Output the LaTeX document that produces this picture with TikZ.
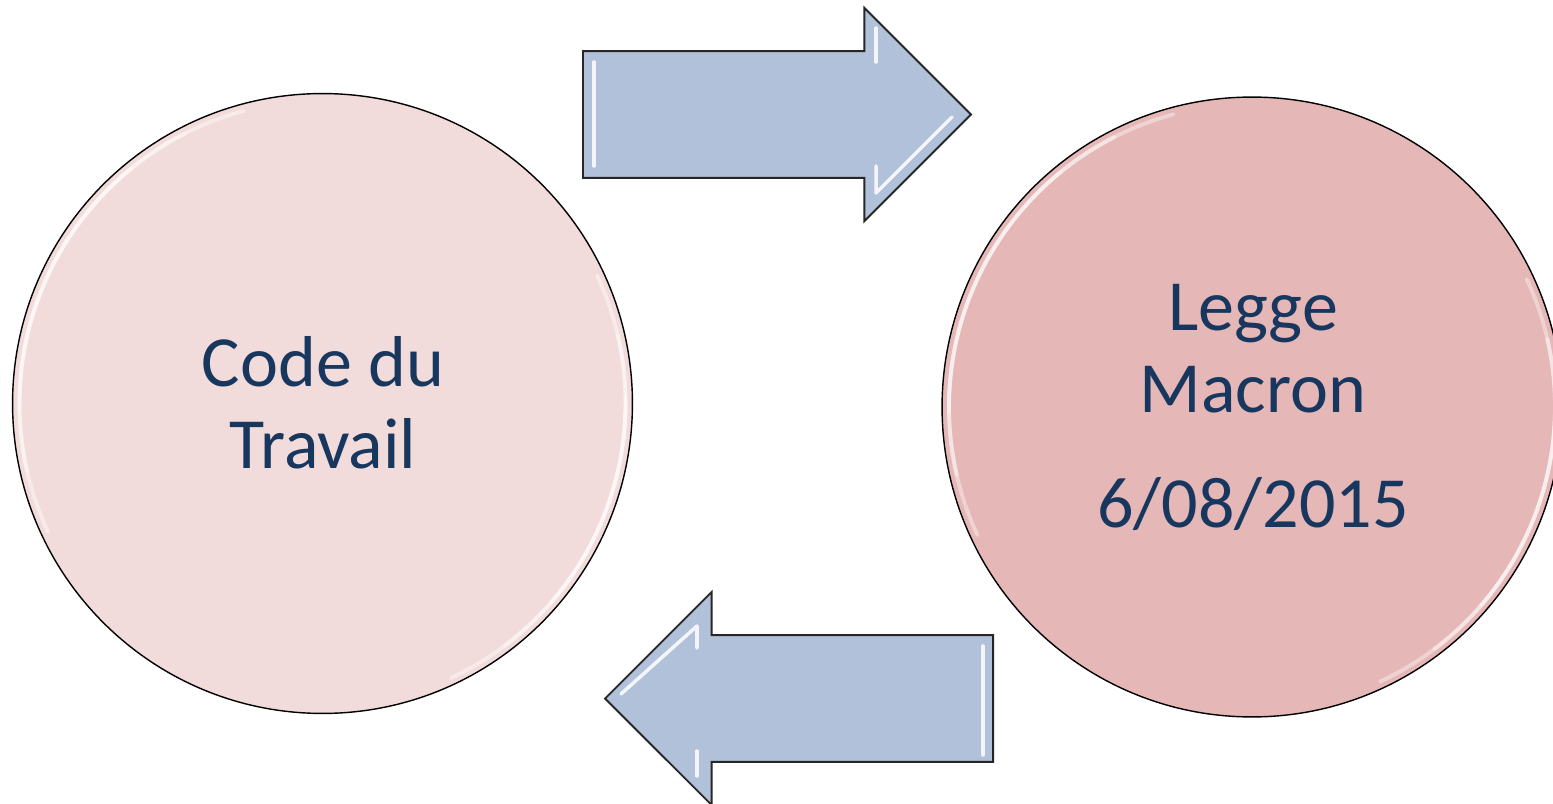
\documentclass[tikz,border=0pt]{standalone}
\usepackage{fontspec}
\setmainfont{Carlito}
\usetikzlibrary{shapes.arrows}
\definecolor{pinklight}{RGB}{242,220,219}
\definecolor{pinkdark}{RGB}{229,183,183}
\definecolor{arrowblue}{RGB}{177,193,218}
\definecolor{navytext}{RGB}{23,55,94}
\tikzset{
  disc/.style={circle, draw=black, line width=0.8pt, minimum size=12.4cm, inner sep=0pt},
  flow/.style={single arrow, draw=black!85, line width=1.1pt, fill=arrowblue,
    minimum height=7.76cm, inner xsep=0pt, inner ysep=1.25cm,
    single arrow head extend=0.86cm, single arrow tip angle=90, anchor=tail},
  caption/.style={text=navytext, font=\fontsize{41}{49}\selectfont, anchor=base, inner sep=0pt},
  gloss/.style={white, line width=2.2pt, opacity=0.4, line cap=round},
  shine/.style={white, line width=2pt, opacity=0.85, line cap=round, line join=round}
}
\begin{document}
\begin{tikzpicture}[x=0.02cm, y=-0.02cm]
  \clip (0,0) rectangle (1553,804);
  \fill[white] (0,0) rectangle (1553,804);

  % the two discs
  \node[disc, fill=pinklight] (code) at (322.5,403.5) {};
  \node[disc, fill=pinkdark] (macron) at (1252,407) {};

  % soft rim highlights on the discs
  \foreach \d in {code, macron} {
    \foreach \s in {0,12,24} {
      \draw[gloss] (\d.center) ++(155+\s:303) arc[start angle=155+\s, end angle=255-\s, radius=303];
      \draw[gloss] (\d.center) ++(-25+\s:303) arc[start angle=-25+\s, end angle=65-\s, radius=303];
    }
  }

  % the two arrows, placed by their tails
  \node[flow] (fwd) at (582,114.5) {};
  \node[flow, shape border rotate=180] (back) at (994,698.5) {};

  % bevel highlights on the arrows
  \draw[shine] (594,62) -- (594,166);
  \draw[shine] (876,28) -- (876,62);
  \draw[shine] (876,166) -- (876,193) -- (952,117);
  \draw[shine] (621,694) -- (697,626) -- (697,648);
  \draw[shine] (697,751) -- (697,776);
  \draw[shine] (983,646) -- (983,755);

  % texts
  \node[caption] (t1) at (323,387) {Code du};
  \node[caption] (t2) at (323,468) {Travail};
  \node[caption] (t3) at (1253,331) {Legge};
  \node[caption] (t4) at (1253,413) {Macron};
  \node[caption] (t5) at (1253,527) {6/08/2015};
\end{tikzpicture}
\end{document}
